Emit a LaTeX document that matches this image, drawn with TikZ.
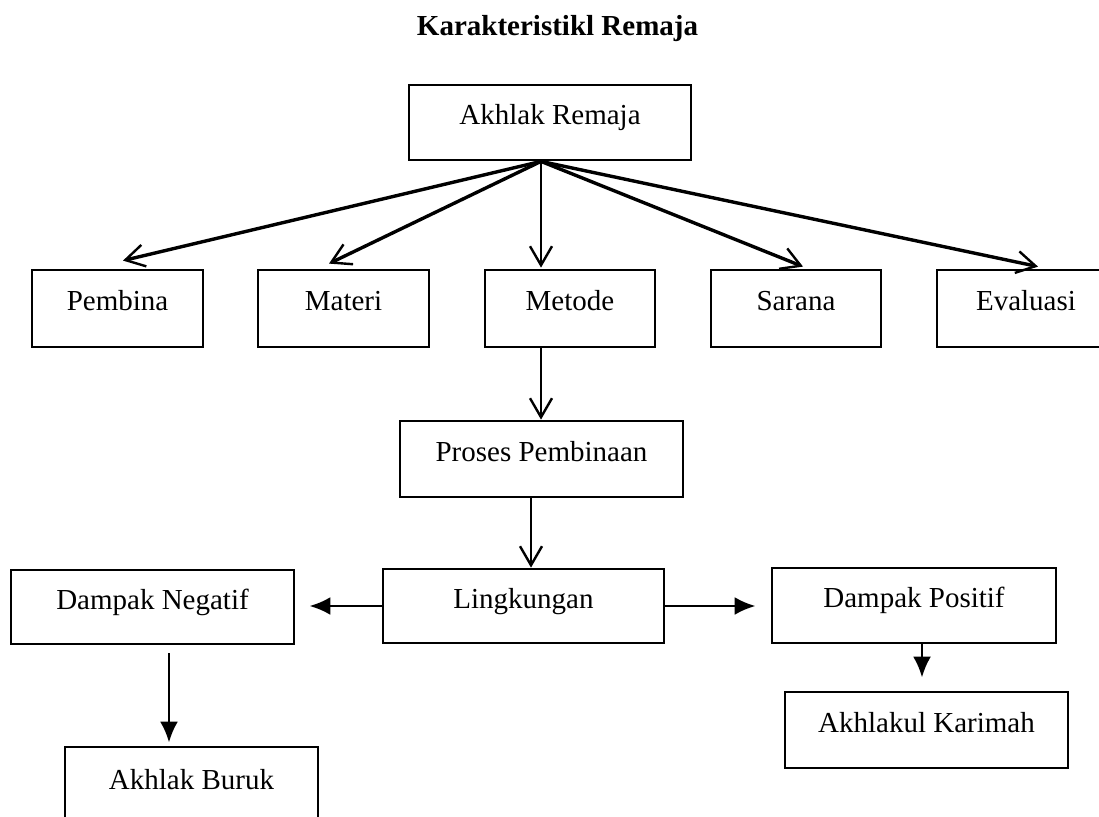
\documentclass[tikz,border=0pt]{standalone}
\usepackage{fontspec}
\setmainfont{Liberation Serif}
\usetikzlibrary{arrows.meta}
\begin{document}
\begin{tikzpicture}[x=1pt,y=-1pt,
  box/.style={draw, line width=2.8pt, rectangle, inner sep=0pt,
    text height=20pt, text depth=16pt, font=\fontsize{29}{34}\selectfont},
  barb/.style={-{Straight Barb[length=19pt,width=22pt,line width=2.4pt]}},
  diag/.style={barb, line width=3.4pt},
  vert/.style={barb, line width=2.3pt},
  fillarrow/.style={-{Latex[length=21pt,width=18pt]}, line width=2.8pt}]
\useasboundingbox[fill=white] (0,0) rectangle (1099,816);
\node[anchor=base, font=\fontsize{29}{34}\selectfont\bfseries] (title) at (557.5,36) {Karakteristikl Remaja};
\node[box, minimum width=282pt, minimum height=75pt] (ar) at (550,122.5) {Akhlak Remaja};
\node[box, minimum width=171pt, minimum height=77pt] (pem) at (117.5,308.5) {Pembina};
\node[box, minimum width=171pt, minimum height=77pt] (mat) at (343.5,308.5) {Materi};
\node[box, minimum width=170pt, minimum height=77pt] (met) at (570,308.5) {Metode};
\node[box, minimum width=170pt, minimum height=77pt] (sar) at (796,308.5) {Sarana};
\node[box, minimum width=178pt, minimum height=77pt] (eva) at (1026,308.5) {Evaluasi};
\node[box, minimum width=283pt, minimum height=76pt] (pro) at (541.5,459) {Proses Pembinaan};
\node[box, minimum width=281pt, minimum height=74pt] (lin) at (523.5,606) {Lingkungan};
\node[box, minimum width=283pt, minimum height=74pt] (neg) at (152.5,607) {Dampak Negatif};
\node[box, minimum width=284pt, minimum height=75pt] (pos) at (914,605.5) {Dampak Positif};
\node[box, minimum width=283pt, minimum height=76pt] (kar) at (926.5,730) {Akhlakul Karimah};
\node[box, minimum width=253pt, minimum height=80pt] (bur) at (191.5,787) {Akhlak Buruk};
% top fan
\draw[diag] ([xshift=-9pt]ar.south) -- ([xshift=5.5pt,yshift=8pt]pem.north);
\draw[diag] ([xshift=-9pt]ar.south) -- ([xshift=-14.5pt,yshift=5pt]mat.north);
\draw[vert] ([xshift=-9pt]ar.south) -- ([xshift=-29pt,yshift=1pt]met.north);
\draw[diag] ([xshift=-9pt]ar.south) -- ([xshift=7pt,yshift=2pt]sar.north);
\draw[diag] ([xshift=-9pt]ar.south) -- ([xshift=12pt,yshift=2pt]eva.north);
% chain
\draw[vert] ([xshift=-29pt]met.south) -- ([xshift=-0.5pt]pro.north);
\draw[vert] ([xshift=-10.5pt]pro.south) -- ([xshift=7.5pt]lin.north);
\draw[fillarrow, shorten >=14pt] (lin.west) -- (lin.west -| neg.east);
\draw[fillarrow, shorten >=15pt] (lin.east) -- (lin.east -| pos.west);
\draw[fillarrow, shorten >=13pt] ([xshift=8pt]pos.south) -- ([xshift=-4.5pt]kar.north);
\draw[fillarrow, shorten <=8pt, shorten >=3pt] ([xshift=16.5pt]neg.south) -- ([xshift=-22.5pt]bur.north);
\end{tikzpicture}
\end{document}
